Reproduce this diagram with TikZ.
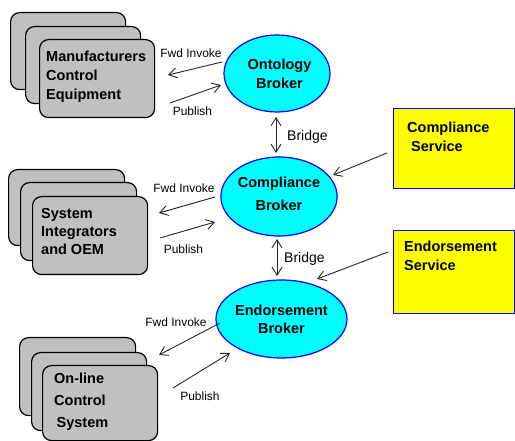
\documentclass[tikz,border=0pt]{standalone}
\usepackage{fontspec}
\setmainfont{Liberation Sans}
\usetikzlibrary{shapes.geometric,arrows.meta}
\definecolor{cardgray}{RGB}{192,192,192}
\definecolor{brokercyan}{RGB}{0,255,255}
\definecolor{edgeblue}{RGB}{0,0,255}
\definecolor{svcyellow}{RGB}{255,255,0}
\begin{document}
\begin{tikzpicture}[x=1pt,y=-1pt,
  card/.style={draw=black, fill=cardgray, line width=1.2pt, rounded corners=9pt,
    anchor=north west, inner sep=0pt},
  broker/.style={ellipse, draw=edgeblue, fill=brokercyan, line width=1.2pt, inner sep=0pt,
    align=center, font=\bfseries\fontsize{14.5}{19}\selectfont},
  service/.style={draw=edgeblue, fill=svcyellow, line width=1.2pt, anchor=north west, inner sep=0pt},
  boxtext/.style={anchor=west, inner sep=0pt, align=left, font=\bfseries\fontsize{14.5}{19}\selectfont},
  lbl/.style={inner sep=0pt, font=\fontsize{12}{14}\selectfont},
  bridgelbl/.style={inner sep=0pt, anchor=west, font=\fontsize{14}{16}\selectfont},
  barb/.tip={Straight Barb[length=8pt,width=10pt]},
  flow/.style={-barb, line width=0.9pt, draw=black!85},
  bridge/.style={barb-barb, line width=0.9pt, draw=black!85}
]
\useasboundingbox (0,0) rectangle (515,441);

% manufacturers stack
\node[card, minimum width=115pt, minimum height=77pt] (mfgA) at (10,12) {};
\node[card, minimum width=115pt, minimum height=77pt] (mfgB) at (25,26) {};
\node[card, minimum width=115pt, minimum height=78pt] (mfgC) at (39,39) {};
\node[boxtext] (mfgT) at (46,77) {Manufacturers\\Control\\Equipment};

% integrators stack
\node[card, minimum width=116pt, minimum height=76pt] (sysA) at (8,169) {};
\node[card, minimum width=116pt, minimum height=78pt] (sysB) at (20,182) {};
\node[card, minimum width=115pt, minimum height=78pt] (sysC) at (32,196) {};
\node[boxtext, font=\bfseries\fontsize{14.5}{18}\selectfont] (sysT) at (41,231.5) {System\\Integrators\\and OEM};

% on-line stack
\node[card, minimum width=116pt, minimum height=78pt] (olA) at (19,337) {};
\node[card, minimum width=115pt, minimum height=78pt] (olB) at (31,352) {};
\node[card, minimum width=115pt, minimum height=75pt] (olC) at (42,365) {};
\node[boxtext, font=\bfseries\fontsize{14.5}{22}\selectfont] (olT) at (54,402) {On-line\\Control\\\hspace{2.5pt}System};

% brokers
\node[broker, minimum width=106pt, minimum height=77pt] (onto) at (277,73.5) {\hspace{5pt}Ontology\\\hspace{5pt}Broker};
\node[broker, minimum width=112pt, minimum height=79pt] (comp) at (279,196.5) {Compliance\\[4pt]Broker\rule[-6pt]{0pt}{6pt}};
\node[broker, minimum width=113pt, minimum height=78pt] (endo) at (281.5,319) {Endorsement\\[-1pt]Broker\hspace{8pt}};

% services
\node[service, minimum width=121pt, minimum height=80pt] (csvc) at (393,108) {};
\node[boxtext] (csvcT) at (407,137) {Compliance\\\hspace{4pt}Service};
\node[service, minimum width=121pt, minimum height=83pt] (esvc) at (393,230) {};
\node[boxtext] (esvcT) at (404,256) {Endorsement\\Service};

% connector end points
\coordinate (mfgIn) at (168,75);
\coordinate (mfgOut) at (170,103);
\coordinate (ontoOut) at (222,62);
\coordinate (ontoIn) at (221,85);
\coordinate (sysIn) at (159,213);
\coordinate (sysOut) at (160,238);
\coordinate (compOut) at (215,197);
\coordinate (compIn) at (215,222);
\coordinate (olIn) at (159,355);
\coordinate (olOut) at (173,388);
\coordinate (endoOut) at (220,323);
\coordinate (endoIn) at (230,353);
\coordinate (bridgeAtop) at (276,117);
\coordinate (bridgeAbot) at (276,153);
\coordinate (bridgeBtop) at (277,239);
\coordinate (bridgeBbot) at (277,276);
\coordinate (csvcOut) at (387,153);
\coordinate (compSvcIn) at (333,175);
\coordinate (esvcOut) at (388,252);
\coordinate (endoSvcIn) at (317,279);

% invocation and publication flows
\draw[flow] (ontoOut) -- (mfgIn);
\draw[flow] (mfgOut) -- (ontoIn);
\draw[flow] (compOut) -- (sysIn);
\draw[flow] (sysOut) -- (compIn);
\draw[flow] (endoOut) -- (olIn);
\draw[flow] (olOut) -- (endoIn);
\draw[flow] (csvcOut) -- (compSvcIn);
\draw[flow] (esvcOut) -- (endoSvcIn);
\draw[bridge] (bridgeAtop) -- (bridgeAbot);
\draw[bridge] (bridgeBtop) -- (bridgeBbot);

% flow labels
\node[lbl] (l1) at (191,53) {Fwd Invoke};
\node[lbl] (l2) at (192.5,111) {Publish};
\node[lbl] (l3) at (184,188) {Fwd Invoke};
\node[lbl] (l4) at (183.5,249) {Publish};
\node[lbl] (l5) at (176,322) {Fwd Invoke};
\node[lbl] (l6) at (200,396) {Publish};
\node[bridgelbl] (b1) at (287,137) {Bridge};
\node[bridgelbl] (b2) at (284,259) {Bridge};
\end{tikzpicture}
\end{document}
